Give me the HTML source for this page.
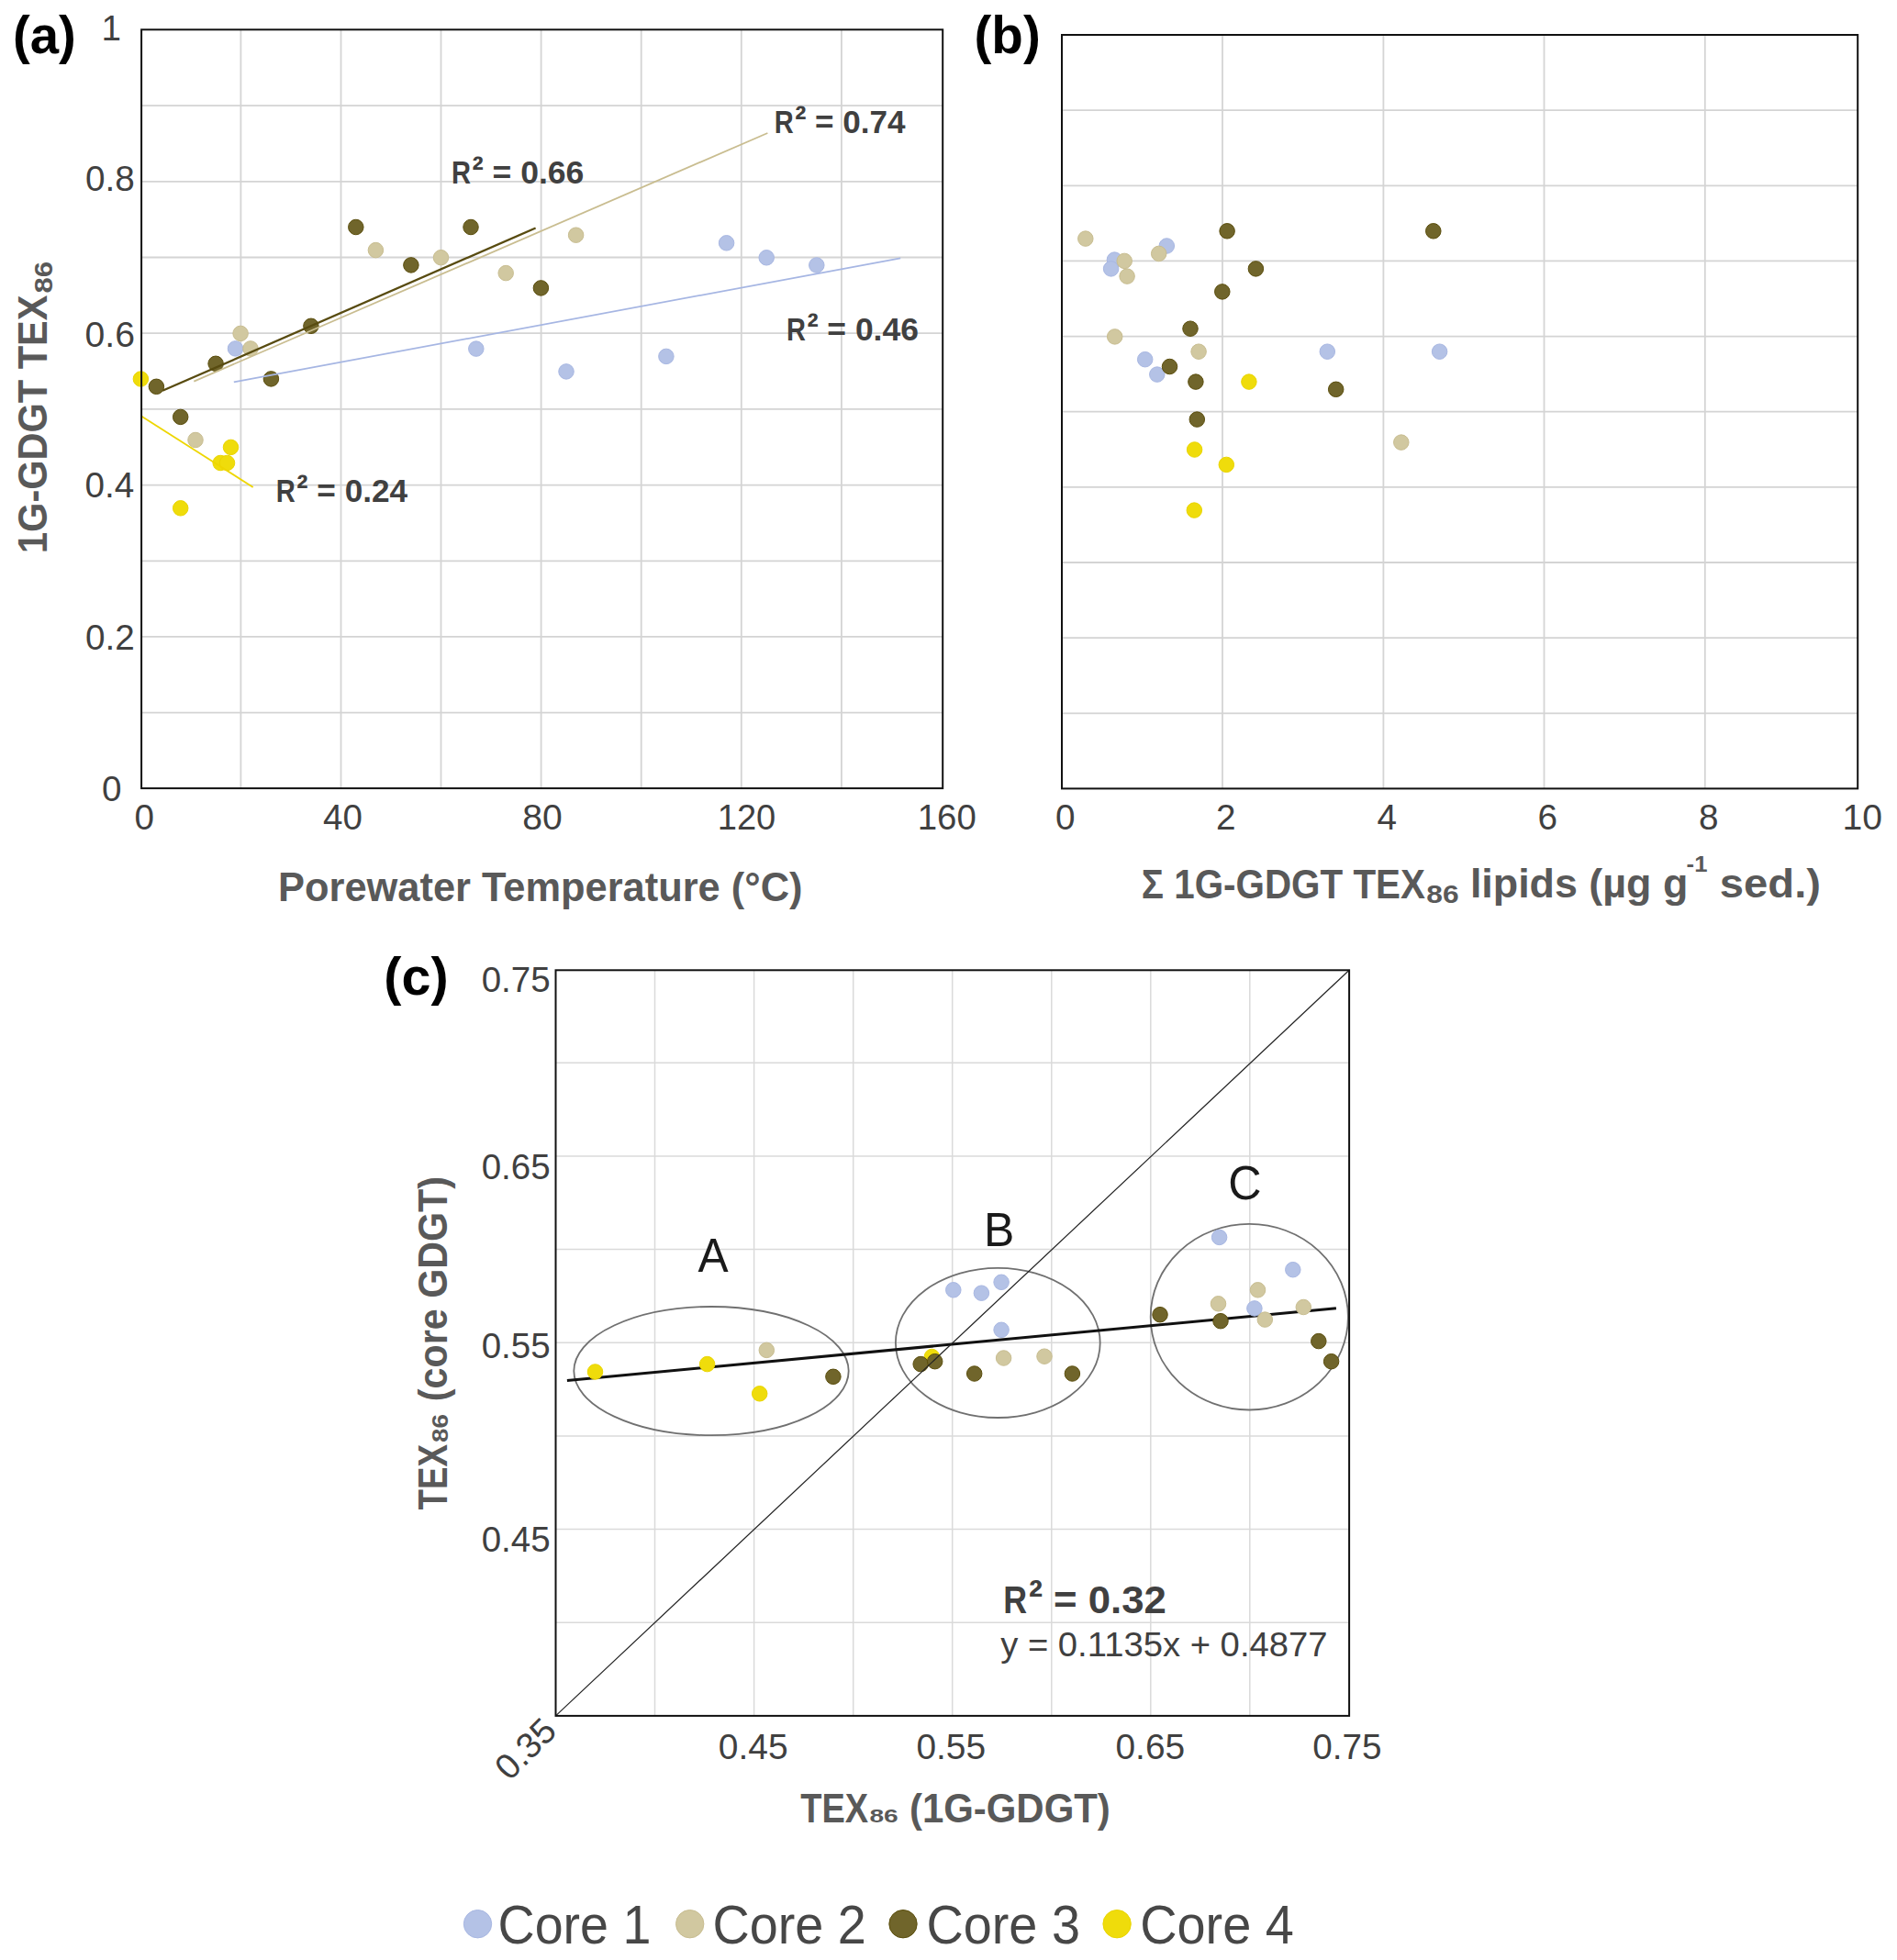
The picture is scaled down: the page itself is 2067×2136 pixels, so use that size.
<!DOCTYPE html>
<html><head><meta charset="utf-8"><title>TEX86 figure</title>
<style>
html,body{margin:0;padding:0;background:#fff;overflow:hidden;width:2067px;height:2136px;}
svg{display:block;font-family:'Liberation Sans', Arial, sans-serif;}
</style></head>
<body>
<svg width="2067" height="2136" viewBox="0 0 2067 2136">
<rect width="2067" height="2136" fill="#fff"/>
<path d="M262.4 32.3V859.1 M371.5 32.3V859.1 M480.5 32.3V859.1 M589.6 32.3V859.1 M698.7 32.3V859.1 M807.8 32.3V859.1 M916.9 32.3V859.1 M154.1 776.6H1027.2 M154.1 693.9H1027.2 M154.1 611.3H1027.2 M154.1 528.6H1027.2 M154.1 445.9H1027.2 M154.1 363.2H1027.2 M154.1 280.5H1027.2 M154.1 197.9H1027.2 M154.1 115.2H1027.2" stroke="#d4d4d4" stroke-width="1.8" fill="none"/>
<circle cx="256.5" cy="379.9" r="8.25" fill="#b4c2e6" stroke="#a8b7e2" stroke-width="1"/>
<circle cx="518.8" cy="380.1" r="8.25" fill="#b4c2e6" stroke="#a8b7e2" stroke-width="1"/>
<circle cx="617" cy="404.9" r="8.25" fill="#b4c2e6" stroke="#a8b7e2" stroke-width="1"/>
<circle cx="725.9" cy="388.4" r="8.25" fill="#b4c2e6" stroke="#a8b7e2" stroke-width="1"/>
<circle cx="791.6" cy="264.8" r="8.25" fill="#b4c2e6" stroke="#a8b7e2" stroke-width="1"/>
<circle cx="835.2" cy="280.8" r="8.25" fill="#b4c2e6" stroke="#a8b7e2" stroke-width="1"/>
<circle cx="889.8" cy="289" r="8.25" fill="#b4c2e6" stroke="#a8b7e2" stroke-width="1"/>
<circle cx="213" cy="479.5" r="8.25" fill="#d1c8a0" stroke="#c8bd90" stroke-width="1"/>
<circle cx="262.1" cy="363.4" r="8.25" fill="#d1c8a0" stroke="#c8bd90" stroke-width="1"/>
<circle cx="273" cy="379.9" r="8.25" fill="#d1c8a0" stroke="#c8bd90" stroke-width="1"/>
<circle cx="409.4" cy="272.6" r="8.25" fill="#d1c8a0" stroke="#c8bd90" stroke-width="1"/>
<circle cx="480.5" cy="280.7" r="8.25" fill="#d1c8a0" stroke="#c8bd90" stroke-width="1"/>
<circle cx="551.2" cy="297.6" r="8.25" fill="#d1c8a0" stroke="#c8bd90" stroke-width="1"/>
<circle cx="627.6" cy="256.2" r="8.25" fill="#d1c8a0" stroke="#c8bd90" stroke-width="1"/>
<circle cx="153.4" cy="413" r="8.25" fill="#efdc0b" stroke="#ead500" stroke-width="1"/>
<circle cx="251.5" cy="487.4" r="8.25" fill="#efdc0b" stroke="#ead500" stroke-width="1"/>
<circle cx="240.2" cy="504.5" r="8.25" fill="#efdc0b" stroke="#ead500" stroke-width="1"/>
<circle cx="247.5" cy="504.5" r="8.25" fill="#efdc0b" stroke="#ead500" stroke-width="1"/>
<circle cx="196.7" cy="553.8" r="8.25" fill="#efdc0b" stroke="#ead500" stroke-width="1"/>
<circle cx="170.4" cy="421.3" r="8.25" fill="#70652b" stroke="#5a4d0c" stroke-width="1"/>
<circle cx="196.7" cy="454.4" r="8.25" fill="#70652b" stroke="#5a4d0c" stroke-width="1"/>
<circle cx="235.1" cy="396.3" r="8.25" fill="#70652b" stroke="#5a4d0c" stroke-width="1"/>
<circle cx="295.4" cy="412.9" r="8.25" fill="#70652b" stroke="#5a4d0c" stroke-width="1"/>
<circle cx="338.9" cy="355.3" r="8.25" fill="#70652b" stroke="#5a4d0c" stroke-width="1"/>
<circle cx="387.8" cy="247.5" r="8.25" fill="#70652b" stroke="#5a4d0c" stroke-width="1"/>
<circle cx="447.9" cy="288.9" r="8.25" fill="#70652b" stroke="#5a4d0c" stroke-width="1"/>
<circle cx="513" cy="247.5" r="8.25" fill="#70652b" stroke="#5a4d0c" stroke-width="1"/>
<circle cx="589.4" cy="313.9" r="8.25" fill="#70652b" stroke="#5a4d0c" stroke-width="1"/>
<line x1="254.8" y1="416.4" x2="981.2" y2="281.3" stroke="#a6b6e3" stroke-width="1.8"/>
<line x1="211.3" y1="415.6" x2="836.4" y2="145" stroke="#c9bd90" stroke-width="1.8"/>
<line x1="177.1" y1="425.8" x2="583.6" y2="248.5" stroke="#584b10" stroke-width="2.3"/>
<line x1="154" y1="453.6" x2="275.7" y2="530.9" stroke="#eed600" stroke-width="1.8"/>
<rect x="154.1" y="32.3" width="873.1" height="826.8000000000001" fill="none" stroke="#111" stroke-width="2"/>
<path d="M1332.0 38.0V859.4 M1507.4 38.0V859.4 M1682.5 38.0V859.4 M1857.8 38.0V859.4 M1157.0 777.3H2024.2 M1157.0 695.1H2024.2 M1157.0 613.0H2024.2 M1157.0 530.8H2024.2 M1157.0 448.7H2024.2 M1157.0 366.6H2024.2 M1157.0 284.4H2024.2 M1157.0 202.3H2024.2 M1157.0 120.1H2024.2" stroke="#d4d4d4" stroke-width="1.8" fill="none"/>
<circle cx="1214.4" cy="283.1" r="8.25" fill="#b4c2e6" stroke="#a8b7e2" stroke-width="1"/>
<circle cx="1210.6" cy="292.9" r="8.25" fill="#b4c2e6" stroke="#a8b7e2" stroke-width="1"/>
<circle cx="1271.3" cy="268" r="8.25" fill="#b4c2e6" stroke="#a8b7e2" stroke-width="1"/>
<circle cx="1247.7" cy="391.7" r="8.25" fill="#b4c2e6" stroke="#a8b7e2" stroke-width="1"/>
<circle cx="1260.8" cy="408.1" r="8.25" fill="#b4c2e6" stroke="#a8b7e2" stroke-width="1"/>
<circle cx="1446.3" cy="383.2" r="8.25" fill="#b4c2e6" stroke="#a8b7e2" stroke-width="1"/>
<circle cx="1568.6" cy="383.2" r="8.25" fill="#b4c2e6" stroke="#a8b7e2" stroke-width="1"/>
<circle cx="1182.8" cy="260.1" r="8.25" fill="#d1c8a0" stroke="#c8bd90" stroke-width="1"/>
<circle cx="1225.2" cy="284.4" r="8.25" fill="#d1c8a0" stroke="#c8bd90" stroke-width="1"/>
<circle cx="1228.1" cy="301.1" r="8.25" fill="#d1c8a0" stroke="#c8bd90" stroke-width="1"/>
<circle cx="1262.7" cy="276.4" r="8.25" fill="#d1c8a0" stroke="#c8bd90" stroke-width="1"/>
<circle cx="1214.7" cy="366.9" r="8.25" fill="#d1c8a0" stroke="#c8bd90" stroke-width="1"/>
<circle cx="1306.1" cy="383.2" r="8.25" fill="#d1c8a0" stroke="#c8bd90" stroke-width="1"/>
<circle cx="1526.8" cy="482.1" r="8.25" fill="#d1c8a0" stroke="#c8bd90" stroke-width="1"/>
<circle cx="1360.9" cy="416.1" r="8.25" fill="#efdc0b" stroke="#ead500" stroke-width="1"/>
<circle cx="1301.6" cy="490" r="8.25" fill="#efdc0b" stroke="#ead500" stroke-width="1"/>
<circle cx="1336.3" cy="506.4" r="8.25" fill="#efdc0b" stroke="#ead500" stroke-width="1"/>
<circle cx="1301.3" cy="556.1" r="8.25" fill="#efdc0b" stroke="#ead500" stroke-width="1"/>
<circle cx="1337.1" cy="251.8" r="8.25" fill="#70652b" stroke="#5a4d0c" stroke-width="1"/>
<circle cx="1561.8" cy="251.8" r="8.25" fill="#70652b" stroke="#5a4d0c" stroke-width="1"/>
<circle cx="1368.4" cy="292.9" r="8.25" fill="#70652b" stroke="#5a4d0c" stroke-width="1"/>
<circle cx="1331.8" cy="317.9" r="8.25" fill="#70652b" stroke="#5a4d0c" stroke-width="1"/>
<circle cx="1297" cy="358.2" r="8.25" fill="#70652b" stroke="#5a4d0c" stroke-width="1"/>
<circle cx="1274.5" cy="399.5" r="8.25" fill="#70652b" stroke="#5a4d0c" stroke-width="1"/>
<circle cx="1302.9" cy="416.1" r="8.25" fill="#70652b" stroke="#5a4d0c" stroke-width="1"/>
<circle cx="1455.7" cy="424.3" r="8.25" fill="#70652b" stroke="#5a4d0c" stroke-width="1"/>
<circle cx="1304.3" cy="457.1" r="8.25" fill="#70652b" stroke="#5a4d0c" stroke-width="1"/>
<rect x="1157.0" y="38.0" width="867.2" height="821.4" fill="none" stroke="#111" stroke-width="2"/>
<path d="M713.5 1057.3V1869.9 M821.6 1057.3V1869.9 M929.7 1057.3V1869.9 M1037.7 1057.3V1869.9 M1145.8 1057.3V1869.9 M1253.8 1057.3V1869.9 M1361.8 1057.3V1869.9 M605.5 1768.2H1470.1 M605.5 1666.6H1470.1 M605.5 1564.9H1470.1 M605.5 1463.2H1470.1 M605.5 1361.6H1470.1 M605.5 1260.0H1470.1 M605.5 1158.3H1470.1" stroke="#dadada" stroke-width="1.5" fill="none"/>
<ellipse cx="775" cy="1494.1" rx="149.7" ry="70.1" fill="none" stroke="#707070" stroke-width="1.8"/>
<ellipse cx="1087.3" cy="1463.4" rx="111.4" ry="81.6" fill="none" stroke="#707070" stroke-width="1.8"/>
<ellipse cx="1361.3" cy="1435.2" rx="107.6" ry="101.3" fill="none" stroke="#707070" stroke-width="1.8"/>
<line x1="617.9" y1="1504.5" x2="1455.9" y2="1425.7" stroke="#111" stroke-width="3"/>
<circle cx="1038.8" cy="1405.8" r="8.25" fill="#b4c2e6" stroke="#a8b7e2" stroke-width="1"/>
<circle cx="1069.4" cy="1409.2" r="8.25" fill="#b4c2e6" stroke="#a8b7e2" stroke-width="1"/>
<circle cx="1091.1" cy="1397.3" r="8.25" fill="#b4c2e6" stroke="#a8b7e2" stroke-width="1"/>
<circle cx="1091.1" cy="1449.3" r="8.25" fill="#b4c2e6" stroke="#a8b7e2" stroke-width="1"/>
<circle cx="1328.6" cy="1348.4" r="8.25" fill="#b4c2e6" stroke="#a8b7e2" stroke-width="1"/>
<circle cx="1408.8" cy="1383.7" r="8.25" fill="#b4c2e6" stroke="#a8b7e2" stroke-width="1"/>
<circle cx="1366.9" cy="1425.9" r="8.25" fill="#b4c2e6" stroke="#a8b7e2" stroke-width="1"/>
<circle cx="835.3" cy="1471.4" r="8.25" fill="#d1c8a0" stroke="#c8bd90" stroke-width="1"/>
<circle cx="1093.6" cy="1480" r="8.25" fill="#d1c8a0" stroke="#c8bd90" stroke-width="1"/>
<circle cx="1138" cy="1478.2" r="8.25" fill="#d1c8a0" stroke="#c8bd90" stroke-width="1"/>
<circle cx="1370.5" cy="1405.8" r="8.25" fill="#d1c8a0" stroke="#c8bd90" stroke-width="1"/>
<circle cx="1327.5" cy="1420.8" r="8.25" fill="#d1c8a0" stroke="#c8bd90" stroke-width="1"/>
<circle cx="1420.3" cy="1424.5" r="8.25" fill="#d1c8a0" stroke="#c8bd90" stroke-width="1"/>
<circle cx="1378.3" cy="1438.1" r="8.25" fill="#d1c8a0" stroke="#c8bd90" stroke-width="1"/>
<circle cx="648.5" cy="1495" r="8.25" fill="#efdc0b" stroke="#ead500" stroke-width="1"/>
<circle cx="770.6" cy="1486.6" r="8.25" fill="#efdc0b" stroke="#ead500" stroke-width="1"/>
<circle cx="827.7" cy="1518.8" r="8.25" fill="#efdc0b" stroke="#ead500" stroke-width="1"/>
<circle cx="1015.4" cy="1478.5" r="8.25" fill="#efdc0b" stroke="#ead500" stroke-width="1"/>
<circle cx="907.9" cy="1500.3" r="8.25" fill="#70652b" stroke="#5a4d0c" stroke-width="1"/>
<circle cx="1003.2" cy="1486.6" r="8.25" fill="#70652b" stroke="#5a4d0c" stroke-width="1"/>
<circle cx="1018.7" cy="1483.7" r="8.25" fill="#70652b" stroke="#5a4d0c" stroke-width="1"/>
<circle cx="1061.7" cy="1497" r="8.25" fill="#70652b" stroke="#5a4d0c" stroke-width="1"/>
<circle cx="1168.4" cy="1497" r="8.25" fill="#70652b" stroke="#5a4d0c" stroke-width="1"/>
<circle cx="1264" cy="1432.7" r="8.25" fill="#70652b" stroke="#5a4d0c" stroke-width="1"/>
<circle cx="1330" cy="1439.7" r="8.25" fill="#70652b" stroke="#5a4d0c" stroke-width="1"/>
<circle cx="1436.8" cy="1461.6" r="8.25" fill="#70652b" stroke="#5a4d0c" stroke-width="1"/>
<circle cx="1450.6" cy="1483.7" r="8.25" fill="#70652b" stroke="#5a4d0c" stroke-width="1"/>
<line x1="605.5" y1="1869.9" x2="1470.1" y2="1057.3" stroke="#222" stroke-width="1.2"/>
<rect x="605.5" y="1057.3" width="864.5999999999999" height="812.6000000000001" fill="none" stroke="#111" stroke-width="2"/>
<text transform="translate(608.5 1888.5) rotate(-45)" font-size="38.7" fill="#404040" text-anchor="end">0.35</text>
<circle cx="520.5" cy="2096.7" r="15.2" fill="#b4c2e6" stroke="#a8b7e2" stroke-width="1"/>
<circle cx="751.7" cy="2096.7" r="15.2" fill="#d1c8a0" stroke="#c8bd90" stroke-width="1"/>
<circle cx="984" cy="2096.7" r="15.2" fill="#70652b" stroke="#5a4d0c" stroke-width="1"/>
<circle cx="1217.1" cy="2096.7" r="15.2" fill="#efdc0b" stroke="#ead500" stroke-width="1"/>
<text x="491.95" y="200" font-size="35.142857142857146" fill="#404040" font-weight="bold" textLength="21.01" lengthAdjust="spacingAndGlyphs">R</text>
<text x="514.54" y="199.48" font-size="40.83" fill="#404040" font-weight="bold" textLength="12.29" lengthAdjust="spacingAndGlyphs">²</text>
<text x="536.49" y="200" font-size="35.142857142857146" fill="#404040" font-weight="bold" textLength="99.90" lengthAdjust="spacingAndGlyphs">= 0.66</text>
<text x="843.65" y="145" font-size="35.142857142857146" fill="#404040" font-weight="bold" textLength="20.96" lengthAdjust="spacingAndGlyphs">R</text>
<text x="866.18" y="144.48" font-size="40.83" fill="#404040" font-weight="bold" textLength="12.26" lengthAdjust="spacingAndGlyphs">²</text>
<text x="888.08" y="145" font-size="35.142857142857146" fill="#404040" font-weight="bold" textLength="98.50" lengthAdjust="spacingAndGlyphs">= 0.74</text>
<text x="856.95" y="370.5" font-size="35.142857142857146" fill="#404040" font-weight="bold" textLength="20.94" lengthAdjust="spacingAndGlyphs">R</text>
<text x="879.46" y="369.98" font-size="40.83" fill="#404040" font-weight="bold" textLength="12.25" lengthAdjust="spacingAndGlyphs">²</text>
<text x="901.33" y="370.5" font-size="35.142857142857146" fill="#404040" font-weight="bold" textLength="99.55" lengthAdjust="spacingAndGlyphs">= 0.46</text>
<text x="300.75" y="546.7" font-size="35.142857142857146" fill="#404040" font-weight="bold" textLength="21.03" lengthAdjust="spacingAndGlyphs">R</text>
<text x="323.35" y="546.18" font-size="40.83" fill="#404040" font-weight="bold" textLength="12.30" lengthAdjust="spacingAndGlyphs">²</text>
<text x="345.33" y="546.7" font-size="35.142857142857146" fill="#404040" font-weight="bold" textLength="98.85" lengthAdjust="spacingAndGlyphs">= 0.24</text>
<text x="110.56" y="44.3" font-size="38.7" fill="#404040">1</text>
<text x="92.89" y="208.4" font-size="38.7" fill="#404040" textLength="53.78" lengthAdjust="spacingAndGlyphs">0.8</text>
<text x="92.58" y="377.5" font-size="38.7" fill="#404040" textLength="54.41" lengthAdjust="spacingAndGlyphs">0.6</text>
<text x="92.59" y="542.3" font-size="38.7" fill="#404040" textLength="53.77" lengthAdjust="spacingAndGlyphs">0.4</text>
<text x="92.89" y="708.4" font-size="38.7" fill="#404040" textLength="53.78" lengthAdjust="spacingAndGlyphs">0.2</text>
<text x="110.92" y="873" font-size="38.7" fill="#404040">0</text>
<text x="146.42" y="903.5" font-size="38.7" fill="#404040">0</text>
<text x="352.10" y="903.5" font-size="38.7" fill="#404040" textLength="42.86" lengthAdjust="spacingAndGlyphs">40</text>
<text x="569.28" y="903.5" font-size="38.7" fill="#404040" textLength="43.50" lengthAdjust="spacingAndGlyphs">80</text>
<text x="781.72" y="903.5" font-size="38.7" fill="#404040" textLength="63.53" lengthAdjust="spacingAndGlyphs">120</text>
<text x="999.70" y="903.5" font-size="38.7" fill="#404040" textLength="64.06" lengthAdjust="spacingAndGlyphs">160</text>
<text x="303.09" y="982.2" font-size="44.5" fill="#595959" font-weight="bold" textLength="571.38" lengthAdjust="spacingAndGlyphs">Porewater Temperature (°C)</text>
<text transform="translate(51.1 602.99) rotate(-90)" x="0" y="0" font-size="44.5" fill="#595959" font-weight="bold" textLength="281.39" lengthAdjust="spacingAndGlyphs">1G-GDGT TEX</text>
<text transform="translate(56.8 319.57) rotate(-90)" x="0" y="0" font-size="28" fill="#595959" font-weight="bold" textLength="34.65" lengthAdjust="spacingAndGlyphs">86</text>
<text x="13.96" y="58" font-size="57.3" fill="#000" font-weight="bold" textLength="68.77" lengthAdjust="spacingAndGlyphs">(a)</text>
<text x="1150.12" y="903.7" font-size="38.7" fill="#404040">0</text>
<text x="1324.92" y="903.7" font-size="38.7" fill="#404040">2</text>
<text x="1500.42" y="903.7" font-size="38.7" fill="#404040">4</text>
<text x="1675.52" y="903.7" font-size="38.7" fill="#404040">6</text>
<text x="1850.92" y="903.7" font-size="38.7" fill="#404040">8</text>
<text x="2007.45" y="903.7" font-size="38.7" fill="#404040" textLength="43.52" lengthAdjust="spacingAndGlyphs">10</text>
<text x="1243.84" y="978.8" font-size="44.5" fill="#595959" font-weight="bold" textLength="309.06" lengthAdjust="spacingAndGlyphs">Σ 1G-GDGT TEX</text>
<text x="1554.31" y="983.8" font-size="27.5" fill="#595959" font-weight="bold" textLength="35.28" lengthAdjust="spacingAndGlyphs">86</text>
<text x="1601.90" y="978.4" font-size="44.5" fill="#595959" font-weight="bold" textLength="237.37" lengthAdjust="spacingAndGlyphs">lipids (µg g</text>
<text x="1837.61" y="950.3" font-size="23" fill="#595959" font-weight="bold" textLength="22.75" lengthAdjust="spacingAndGlyphs">-1</text>
<text x="1873.82" y="978.4" font-size="44.5" fill="#595959" font-weight="bold" textLength="110.18" lengthAdjust="spacingAndGlyphs">sed.)</text>
<text x="1061.55" y="58.3" font-size="57.2" fill="#000" font-weight="bold" textLength="72.19" lengthAdjust="spacingAndGlyphs">(b)</text>
<text x="760.60" y="1385.8" font-size="52" fill="#1a1a1a" textLength="33.16" lengthAdjust="spacingAndGlyphs">A</text>
<text x="1072.00" y="1357.5" font-size="52" fill="#1a1a1a" textLength="33.30" lengthAdjust="spacingAndGlyphs">B</text>
<text x="1338.34" y="1306.6" font-size="52" fill="#1a1a1a" textLength="36.30" lengthAdjust="spacingAndGlyphs">C</text>
<text x="524.70" y="1081.2" font-size="38.7" fill="#404040" textLength="74.96" lengthAdjust="spacingAndGlyphs">0.75</text>
<text x="524.70" y="1284.7" font-size="38.7" fill="#404040" textLength="74.96" lengthAdjust="spacingAndGlyphs">0.65</text>
<text x="524.70" y="1479.7" font-size="38.7" fill="#404040" textLength="74.96" lengthAdjust="spacingAndGlyphs">0.55</text>
<text x="524.70" y="1691" font-size="38.7" fill="#404040" textLength="74.96" lengthAdjust="spacingAndGlyphs">0.45</text>
<text x="782.78" y="1916.9" font-size="38.7" fill="#404040" textLength="75.80" lengthAdjust="spacingAndGlyphs">0.45</text>
<text x="998.38" y="1916.9" font-size="38.7" fill="#404040" textLength="75.69" lengthAdjust="spacingAndGlyphs">0.55</text>
<text x="1215.48" y="1916.9" font-size="38.7" fill="#404040" textLength="75.69" lengthAdjust="spacingAndGlyphs">0.65</text>
<text x="1430.29" y="1916.9" font-size="38.7" fill="#404040" textLength="75.28" lengthAdjust="spacingAndGlyphs">0.75</text>
<text x="1093.26" y="1758" font-size="43.142857142857146" fill="#404040" font-weight="bold" textLength="25.86" lengthAdjust="spacingAndGlyphs">R</text>
<text x="1121.06" y="1757.37" font-size="50.13" fill="#404040" font-weight="bold" textLength="15.12" lengthAdjust="spacingAndGlyphs">²</text>
<text x="1148.06" y="1758" font-size="43.142857142857146" fill="#404040" font-weight="bold" textLength="122.93" lengthAdjust="spacingAndGlyphs">= 0.32</text>
<text x="1090.20" y="1804.8" font-size="36.5" fill="#404040" textLength="356.35" lengthAdjust="spacingAndGlyphs">y = 0.1135x + 0.4877</text>
<text x="872.30" y="1985.5" font-size="44.5" fill="#595959" font-weight="bold" textLength="73.91" lengthAdjust="spacingAndGlyphs">TEX</text>
<text x="947.46" y="1985.5" font-size="20" fill="#595959" font-weight="bold" textLength="31.26" lengthAdjust="spacingAndGlyphs">86</text>
<text x="990.94" y="1985.5" font-size="44.5" fill="#595959" font-weight="bold" textLength="218.88" lengthAdjust="spacingAndGlyphs">(1G-GDGT)</text>
<text transform="translate(487 1645.40) rotate(-90)" x="0" y="0" font-size="44.5" fill="#595959" font-weight="bold" textLength="71.32" lengthAdjust="spacingAndGlyphs">TEX</text>
<text transform="translate(487.5 1572.01) rotate(-90)" x="0" y="0" font-size="24" fill="#595959" font-weight="bold" textLength="30.89" lengthAdjust="spacingAndGlyphs">86</text>
<text transform="translate(487 1527.13) rotate(-90)" x="0" y="0" font-size="44.5" fill="#595959" font-weight="bold" textLength="245.12" lengthAdjust="spacingAndGlyphs">(core GDGT)</text>
<text x="418.30" y="1083.8" font-size="57.5" fill="#000" font-weight="bold" textLength="70.27" lengthAdjust="spacingAndGlyphs">(c)</text>
<text x="542.49" y="2117.9" font-size="60" fill="#474747" textLength="166.96" lengthAdjust="spacingAndGlyphs">Core 1</text>
<text x="776.38" y="2117.9" font-size="60" fill="#474747" textLength="167.48" lengthAdjust="spacingAndGlyphs">Core 2</text>
<text x="1009.38" y="2117.9" font-size="60" fill="#474747" textLength="167.58" lengthAdjust="spacingAndGlyphs">Core 3</text>
<text x="1242.18" y="2117.9" font-size="60" fill="#474747" textLength="167.71" lengthAdjust="spacingAndGlyphs">Core 4</text>
</svg>
</body></html>
